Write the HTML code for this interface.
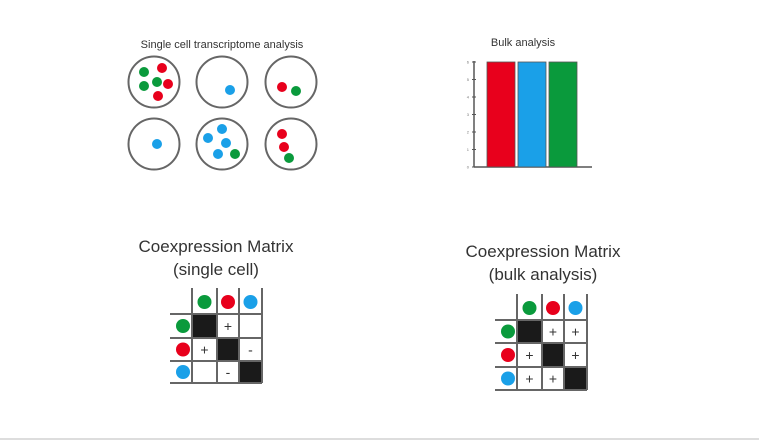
<!DOCTYPE html>
<html><head><meta charset="utf-8"><style>
html,body{margin:0;padding:0;background:#fff;}
svg{display:block;font-family:"Liberation Sans",sans-serif;}
</style></head><body>
<svg id="s" width="759" height="442" viewBox="0 0 759 442">
<text x="222" y="48" font-size="11" text-anchor="middle" fill="#333">Single cell transcriptome analysis</text>
<g id="cells"></g>
<text x="523" y="46" font-size="11" text-anchor="middle" fill="#333">Bulk analysis</text>
<g id="bulk"></g>
<text x="216" y="252" font-size="17" text-anchor="middle" fill="#333">Coexpression Matrix</text>
<text x="216" y="275" font-size="17" text-anchor="middle" fill="#333">(single cell)</text>
<text x="543" y="257" font-size="17" text-anchor="middle" fill="#333">Coexpression Matrix</text>
<text x="543" y="280" font-size="17" text-anchor="middle" fill="#333">(bulk analysis)</text>
<g id="m1"></g>
<g id="m2"></g>
<line x1="0" y1="439" x2="759" y2="439" stroke="#ddd" stroke-width="2"/>
</svg>
<script>
const NS="http://www.w3.org/2000/svg";
const COL={r:"#e8001c",g:"#0a9a3c",b:"#1aa0e8"};
function mk(t,a,p){const e=document.createElementNS(NS,t);for(const k in a)e.setAttribute(k,a[k]);p.appendChild(e);return e;}
// cells: centers and dots
const cellCenters=[[154,82],[222,82],[291,82],[154,144],[222,144],[291,144]];
const cellDots=[
 [[144,72,"g"],[162,68,"r"],[144,86,"g"],[157,82,"g"],[168,84,"r"],[158,96,"r"]],
 [[230,90,"b"]],
 [[282,87,"r"],[296,91,"g"]],
 [[157,144,"b"]],
 [[222,129,"b"],[208,138,"b"],[226,143,"b"],[218,154,"b"],[235,154,"g"]],
 [[282,134,"r"],[284,147,"r"],[289,158,"g"]]];
const cg=document.getElementById('cells');
cellCenters.forEach((c,i)=>{
 const e=mk('circle',{cx:c[0],cy:c[1],r:25.5,fill:"none",stroke:"#666","stroke-width":2},cg);
 
 
 cellDots[i].forEach(d=>{
  const dd=mk('circle',{cx:d[0],cy:d[1],r:5,fill:COL[d[2]]},cg);
  
  
 });
});
// bulk bar chart
const bulkCats=["red","blue","green"];
const bulkValues=[6,6,6];
const bulkTicks=[0,1,2,3,4,5,6];
const bg=document.getElementById('bulk');
const y0=167,y1=62,yMax=6;
const ys=v=>y0-(v/yMax)*(y0-y1);
const xs=i=>487+i*31;
mk('line',{x1:474,y1:61,x2:474,y2:167,stroke:"#555","stroke-width":1.5},bg);
mk('line',{x1:474,y1:167,x2:592,y2:167,stroke:"#555","stroke-width":1.5},bg);
bulkTicks.forEach(t=>{
 mk('line',{x1:472,y1:ys(t),x2:476,y2:ys(t),stroke:"#555"},bg);
 const tx=mk('text',{x:469,y:ys(t)+1.5,"font-size":4,"text-anchor":"end",fill:"#777"},bg);tx.textContent=t;
 
 
});
bulkValues.forEach((v,i)=>{
 const r=mk('rect',{x:xs(i),y:ys(v),width:28,height:y0-ys(v),fill:COL[bulkCats[i][0]],stroke:"#555","stroke-width":0.8},bg);
 
 
});
// matrices
function matrix(id,vx,hy,top,left,cells){
 const g=document.getElementById(id);
 const order=["g","r","b"];
 for(let i=0;i<3;i++){
  // header dots
  const h=mk('circle',{cx:(vx[i]+vx[i+1])/2,cy:(top+hy[0])/2+1,r:7,fill:COL[order[i]]},g);
  
  
  const l=mk('circle',{cx:(left+vx[0])/2+2,cy:(hy[i]+hy[i+1])/2,r:7,fill:COL[order[i]]},g);
  
  
  for(let j=0;j<3;j++){
   const x=vx[j],y=hy[i],w=vx[j+1]-vx[j],hh=hy[i+1]-hy[i];
   if(i===j){const r=mk('rect',{x:x,y:y,width:w,height:hh,fill:"#1a1a1a"},g);
    
    }
   else if(cells[i][j]){const t=mk('text',{x:x+w/2,y:y+hh/2+5,"font-size":14,"text-anchor":"middle",fill:"#333"},g);t.textContent=cells[i][j];
    
    }
  }
 }
 vx.forEach(x=>mk('line',{x1:x,y1:top,x2:x,y2:hy[3],stroke:"#666","stroke-width":2},g));
 hy.forEach(y=>mk('line',{x1:left,y1:y,x2:vx[3],y2:y,stroke:"#666","stroke-width":2},g));
}
matrix('m1',[192,217,239,262],[314,338,361,383],288,170,[["","+",""],["+","","-"],["","-",""]]);
matrix('m2',[517,542,564,587],[320,343,367,390],294,495,[["","+","+"],["+","","+"],["+","+",""]]);
</script>
</body></html>
